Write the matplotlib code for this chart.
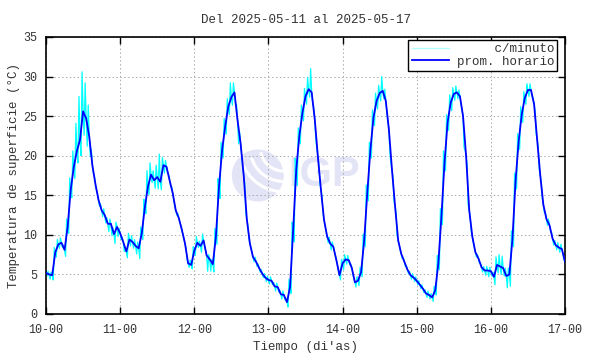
import numpy as np
import matplotlib
matplotlib.use("Agg")
import matplotlib.pyplot as plt
from matplotlib.patches import Ellipse, Arc

# promedio horario (°C), un valor por hora, dias 10 al 16
d10 = [5.2, 5.0, 4.9, 7.8, 8.8, 9.0, 8.1, 11.0, 15.7, 18.6, 20.6, 22.0, 25.6, 24.7, 22.4, 18.8, 16.4, 14.4, 13.1, 12.5, 11.4, 11.4, 10.1, 11.0]
d11 = [10.2, 9.1, 7.9, 9.4, 9.1, 8.6, 8.3, 10.2, 13.5, 16.1, 17.6, 16.9, 17.3, 16.7, 18.8, 18.6, 16.9, 15.3, 13.1, 12.1, 10.6, 8.9, 6.4, 6.2]
d12 = [8.0, 9.0, 8.6, 9.3, 7.4, 6.9, 6.3, 9.8, 16.1, 20.7, 23.7, 26.2, 27.4, 28.0, 24.5, 21.5, 17.5, 12.0, 8.9, 7.2, 6.6, 5.8, 5.1, 4.6]
d13 = [4.3, 4.2, 3.5, 3.4, 2.5, 2.4, 1.5, 3.4, 10.6, 18.2, 22.5, 25.4, 27.5, 28.4, 28.0, 24.6, 19.9, 15.7, 11.9, 9.8, 8.9, 8.5, 6.8, 4.9]
d14 = [6.4, 6.9, 6.8, 5.8, 4.0, 4.2, 5.3, 9.3, 15.3, 20.7, 24.8, 26.9, 27.9, 28.2, 26.9, 23.3, 18.2, 13.6, 9.3, 7.6, 6.6, 5.6, 4.9, 4.6]
d15 = [4.2, 3.7, 3.2, 2.6, 2.4, 2.1, 3.0, 6.4, 12.3, 19.1, 24.2, 26.7, 27.8, 28.0, 27.5, 25.0, 19.9, 13.1, 9.8, 7.8, 7.0, 5.9, 5.5, 5.5]
d16 = [5.4, 4.7, 6.2, 6.0, 5.8, 4.8, 5.0, 9.5, 16.8, 21.8, 25.2, 27.3, 28.3, 28.3, 26.5, 22.0, 17.5, 13.8, 12.0, 11.2, 9.5, 8.7, 8.4, 8.2]
d17_00 = 6.6

# dispersion de los datos c/minuto dentro de cada hora (arriba / abajo del promedio)
up10 = [0.4, 0.4, 0.4, 0.6, 0.6, 0.6, 0.6, 1.0, 1.5, 2.0, 3.5, 5.5, 5.0, 4.5, 4.0, 2.0, 1.0, 0.8, 0.8, 0.8, 0.8, 0.6, 0.8, 0.6]
dn10 = [0.4, 0.6, 0.6, 0.6, 0.5, 0.6, 0.8, 0.8, 1.0, 1.5, 1.5, 2.0, 3.0, 3.5, 2.5, 1.0, 0.8, 0.8, 0.8, 1.0, 1.0, 1.5, 1.2, 1.2]
up11 = [0.6, 0.6, 0.5, 0.8, 0.8, 0.8, 0.8, 0.8, 1.0, 2.0, 1.5, 1.2, 1.5, 3.5, 1.0, 0.8, 0.8, 0.8, 0.6, 0.6, 0.6, 0.5, 0.5, 0.6]
dn11 = [0.8, 1.2, 0.8, 0.8, 0.8, 1.0, 1.3, 0.8, 0.8, 1.0, 1.0, 1.0, 1.5, 1.0, 1.0, 0.8, 0.8, 0.8, 0.6, 0.6, 0.6, 0.6, 0.5, 0.5]
up12 = [0.5, 0.8, 0.6, 0.8, 0.6, 0.6, 0.6, 1.0, 1.0, 1.0, 1.0, 1.0, 1.8, 1.2, 2.0, 1.5, 1.0, 0.8, 0.6, 0.6, 0.6, 0.5, 0.5, 0.5]
dn12 = [0.6, 0.6, 0.8, 0.8, 2.0, 1.5, 1.0, 1.0, 1.5, 1.0, 1.0, 1.0, 1.0, 1.5, 3.0, 1.5, 1.0, 0.8, 0.6, 0.6, 0.6, 0.5, 0.5, 0.5]
up13 = [0.5, 0.5, 0.5, 0.5, 0.5, 0.5, 0.5, 1.0, 1.0, 1.5, 1.0, 1.0, 1.0, 1.5, 3.0, 1.5, 1.0, 0.8, 0.8, 0.8, 0.8, 0.6, 0.6, 0.5]
dn13 = [0.5, 0.5, 0.6, 0.6, 0.6, 0.6, 0.6, 0.8, 1.5, 2.0, 1.0, 1.0, 1.0, 1.0, 1.5, 2.5, 1.0, 0.8, 0.8, 0.8, 0.8, 0.6, 0.6, 0.6]
up14 = [0.5, 0.6, 0.6, 0.5, 0.5, 0.5, 0.6, 0.8, 1.0, 1.0, 1.0, 1.0, 1.0, 1.8, 1.5, 1.0, 0.8, 0.6, 0.6, 0.5, 0.5, 0.5, 0.5, 0.5]
dn14 = [0.8, 0.6, 0.6, 0.8, 0.6, 0.6, 0.6, 0.8, 1.0, 1.0, 1.0, 1.0, 1.0, 1.0, 1.5, 3.0, 1.0, 0.8, 0.6, 0.6, 0.6, 0.5, 0.5, 0.5]
up15 = [0.5, 0.5, 0.5, 0.5, 0.5, 0.5, 0.5, 1.0, 1.0, 1.5, 1.0, 1.0, 0.8, 0.8, 0.8, 0.8, 0.8, 0.6, 0.6, 0.5, 0.5, 0.5, 0.5, 0.5]
dn15 = [0.5, 0.5, 0.5, 0.5, 0.5, 0.5, 0.6, 0.8, 1.0, 1.0, 1.0, 1.0, 0.8, 0.8, 1.0, 4.0, 1.0, 0.8, 0.8, 0.6, 0.6, 0.6, 0.6, 0.8]
up16 = [0.5, 0.6, 1.0, 1.5, 1.5, 1.0, 0.8, 1.0, 1.0, 1.0, 1.0, 0.8, 0.8, 0.8, 0.8, 0.8, 0.8, 0.8, 0.8, 0.8, 0.8, 0.6, 0.6, 0.6]
dn16 = [0.6, 1.0, 1.0, 1.0, 1.0, 1.5, 1.5, 1.0, 1.0, 1.0, 1.0, 0.8, 0.8, 0.8, 0.8, 0.8, 0.8, 1.0, 0.8, 0.8, 0.8, 0.6, 0.6, 0.6]

dias = [10, 11, 12, 13, 14, 15, 16, 17]
tick_labels = ["10-00", "11-00", "12-00", "13-00", "14-00", "15-00", "16-00", "17-00"]

horario = np.array(d10 + d11 + d12 + d13 + d14 + d15 + d16 + [d17_00])
up = np.array(up10 + up11 + up12 + up13 + up14 + up15 + up16 + [0.3])
dn = np.array(dn10 + dn11 + dn12 + dn13 + dn14 + dn15 + dn16 + [0.3])
t = 10 + np.arange(len(horario)) / 24.0

# zigzag entre max y min de cada hora para el trazo c/minuto
h = 1 / 24.0
tz = np.column_stack([t - h / 3, t, t + h / 3]).ravel()
yz = np.column_stack([horario + up, horario, horario - dn]).ravel()

mono = "Liberation Mono"
plt.rcParams["font.family"] = mono
plt.rcParams["font.size"] = 8.5

fig = plt.figure(figsize=(5.9, 3.54), dpi=100)
ax = fig.add_axes([0.078, 0.113, 0.8796, 0.7825])

# marca de agua IGP
wm = "#e4e4f7"
ax.add_patch(Ellipse((0.408, 0.50), 0.10, 0.188, transform=ax.transAxes,
                     color=wm, zorder=0, lw=0))
for r, a1, a2 in [(0.09, 200, 300), (0.13, 210, 290), (0.17, 220, 280)]:
    ax.add_patch(Arc((0.458, 0.60), r, r * 1.87, theta1=a1, theta2=a2,
                     transform=ax.transAxes, color="white", lw=2.2, zorder=0))
ax.text(0.466, 0.50, "IGP", transform=ax.transAxes, fontsize=30,
        fontweight="bold", family="Liberation Sans", color=wm,
        ha="left", va="center", zorder=0)

ax.plot(tz, yz, color="#00ffff", lw=0.9, label="     c/minuto", zorder=2)
ax.plot(t, horario, color="#0000ff", lw=1.3, label="prom. horario", zorder=3)

ax.set_xlim(10, 17)
ax.set_ylim(0, 35)
ax.set_xticks(dias)
ax.set_xticklabels(tick_labels)
ax.set_yticks(np.arange(0, 36, 5))
ax.tick_params(direction="in", top=True, right=True, length=5, width=1,
               colors="black", labelcolor="#333333")
ax.tick_params(axis="x", pad=7)
ax.tick_params(axis="y", pad=6)
ax.grid(True, color="#aaaaaa", linestyle=(0, (1.5, 2.5)), lw=0.7)
for s in ax.spines.values():
    s.set_linewidth(1.2)

ax.set_title("Del 2025-05-11 al 2025-05-17", fontsize=9, color="#333333", pad=10)
ax.set_xlabel("Tiempo (di'as)", fontsize=9, color="#333333", labelpad=4)
ax.set_ylabel("Temperatura de superficie (°C)", fontsize=9, color="#333333", labelpad=3)

leg = ax.legend(loc="upper right", bbox_to_anchor=(0.985, 0.99), borderaxespad=0,
                fancybox=False, edgecolor="black", framealpha=1, handlelength=3,
                labelspacing=0.05, borderpad=0.25, handletextpad=0.6, fontsize=9)
leg.get_frame().set_linewidth(1.0)
for txt in leg.get_texts():
    txt.set_color("#333333")
leg.get_lines()[0].set_color("#b0ffff")

fig.savefig("out.png", dpi=100)
